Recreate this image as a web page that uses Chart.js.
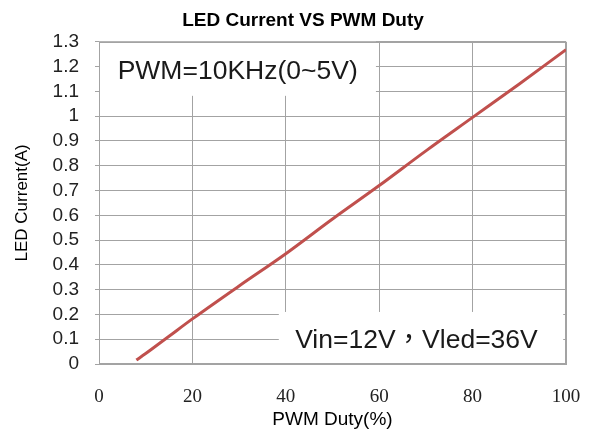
<!DOCTYPE html>
<html>
<head>
<meta charset="utf-8">
<script src="https://cdn.jsdelivr.net/npm/chart.js@4.4.1/dist/chart.umd.min.js"></script>
<style>
  html, body { margin: 0; padding: 0; background: #fff; }
  #wrap { width: 590px; height: 436px; }
</style>
</head>
<body>
<div id="wrap"><canvas id="ledChart" width="590" height="436"></canvas></div>
<script>
// values
const pwmDuty = [8, 10, 15, 20, 30, 40, 50, 60, 70, 80, 90, 100];
const ledCurrent = [0.016, 0.042, 0.112, 0.182, 0.315, 0.445, 0.585, 0.72, 0.86, 0.995, 1.13, 1.268];

const xTicks = [0, 20, 40, 60, 80, 100];
const yTicks = ["0", "0.1", "0.2", "0.3", "0.4", "0.5", "0.6", "0.7", "0.8", "0.9", "1", "1.1", "1.2", "1.3"];

const noteTop = "PWM=10KHz(0~5V)";
const noteBottom = "Vin=12V，Vled=36V";

const GRID = "#a3a3a3";

// white note boxes over the grid, then the text
const notes = {
  id: "notes",
  afterLayout(chart) {
    // the title sits a bit right of the canvas centre in the original
    chart.titleBlock.left += 40;
  },
  beforeDatasetsDraw(chart) {
    const { ctx, chartArea: a } = chart;
    const x = chart.scales.x;
    const y = chart.scales.y;
    ctx.save();
    ctx.fillStyle = "#fff";
    // top-left box
    let x0 = x.getPixelForValue(0), x1 = x.getPixelForValue(59.3);
    let y0 = y.getPixelForValue(1.3), y1 = y.getPixelForValue(1.082);
    ctx.fillRect(x0, y0, x1 - x0, y1 - y0);
    // bottom-right box
    x0 = x.getPixelForValue(38.5); x1 = x.getPixelForValue(99.4);
    y0 = y.getPixelForValue(0.21); y1 = y.getPixelForValue(0);
    ctx.fillRect(x0, y0, x1 - x0, y1 - y0);

    // outer frame
    ctx.strokeStyle = GRID;
    ctx.lineWidth = 1;
    ctx.strokeRect(Math.round(a.left) + 0.5, Math.round(a.top) + 0.5,
      Math.round(a.right - a.left) - 1, Math.round(a.bottom - a.top) - 1);

    ctx.fillStyle = "#1a1a1a";
    ctx.font = '26.5px "Liberation Sans", Arial, "Noto Sans CJK TC", sans-serif';
    ctx.textBaseline = "alphabetic";
    ctx.textAlign = "left";
    ctx.fillText(noteTop, x.getPixelForValue(4), y.getPixelForValue(1.15));
    ctx.fillText(noteBottom, x.getPixelForValue(42), y.getPixelForValue(0.065));
    ctx.restore();
  },
};

function initChart() {
  const el = document.getElementById("ledChart");
  const ctx = el.getContext("2d");

  new Chart(ctx, {
    type: "line",
    data: {
      datasets: [
        {
          label: "LED Current",
          data: pwmDuty.map((d, i) => ({ x: d, y: ledCurrent[i] })),
          borderColor: "#c0504d",
          borderWidth: 3,
          pointRadius: 0,
          cubicInterpolationMode: "monotone",
          fill: false,
        },
      ],
    },
    options: {
      responsive: false,
      animation: false,
      devicePixelRatio: 1,
      layout: { padding: { left: 0, right: 24, top: 0, bottom: 0 } },
      plugins: {
        legend: { display: false },
        tooltip: { enabled: false },
        title: {
          display: true,
          text: "LED Current VS PWM Duty",
          color: "#000",
          font: { family: '"Liberation Sans", Arial, sans-serif', size: 19, weight: "bold" },
          padding: { top: 9, bottom: 10 },
        },
      },
      scales: {
        x: {
          type: "linear",
          min: 0,
          max: 100,
          afterBuildTicks: (s) => { s.ticks = xTicks.map((v) => ({ value: v })); },
          afterFit: (s) => { s.height = 72; s.paddingRight = 14; },
          grid: { color: GRID, drawTicks: false },
          border: { color: GRID },
          ticks: {
            color: "#222",
            padding: 22,
            autoSkip: false,
            font: { family: '"Liberation Serif", "Times New Roman", serif', size: 19 },
          },
          title: {
            display: true,
            text: "PWM Duty(%)",
            color: "#000",
            font: { family: '"Liberation Sans", Arial, sans-serif', size: 19 },
            padding: { top: 0, bottom: 5 },
          },
        },
        y: {
          type: "linear",
          min: 0,
          max: 1.3,
          afterBuildTicks: (s) => { s.ticks = yTicks.map((t) => ({ value: parseFloat(t) })); },
          afterFit: (s) => { s.width = 99; },
          grid: { color: GRID, tickLength: 4 },
          border: { color: GRID },
          ticks: {
            color: "#222",
            padding: 16,
            autoSkip: false,
            font: { family: '"Liberation Sans", Arial, sans-serif', size: 19 },
            callback: (v, i) => yTicks[i],
          },
          title: {
            display: true,
            text: "LED Current(A)",
            color: "#000",
            font: { family: '"Liberation Sans", Arial, sans-serif', size: 17 },
            padding: { top: 12, bottom: 0 },
          },
        },
      },
    },
    plugins: [notes],
  });
}

window.addEventListener("DOMContentLoaded", initChart);
</script>
</body>
</html>
